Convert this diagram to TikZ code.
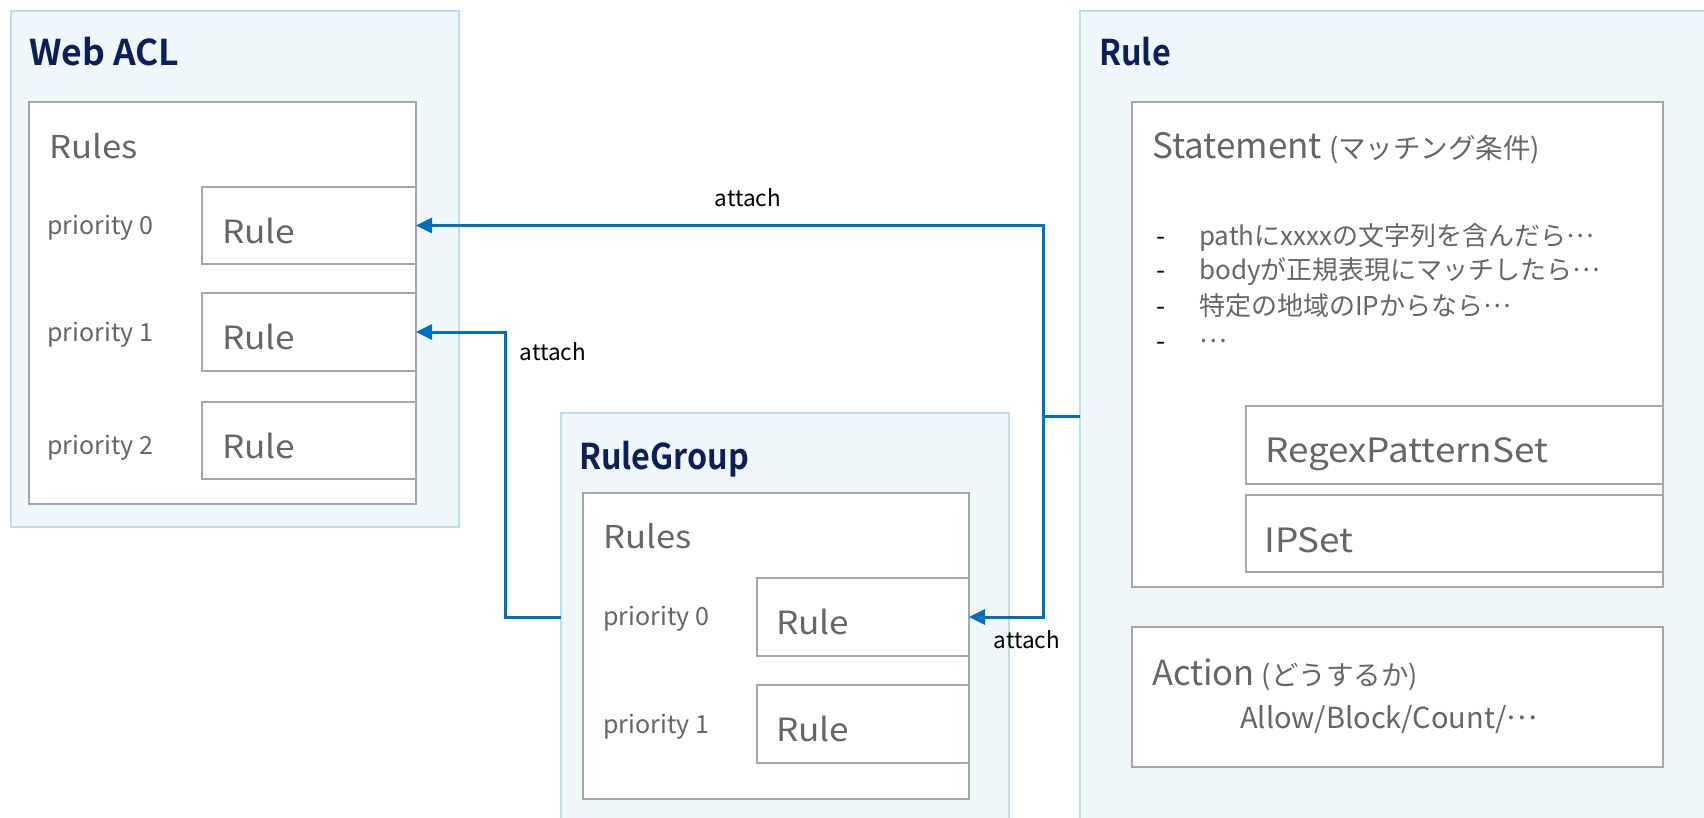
\documentclass[tikz,border=0pt]{standalone}
\usepackage{fontspec}
\setmainfont{Noto Sans CJK JP}
\newfontfamily\widefont{Noto Sans CJK JP}[FakeStretch=1.1]
\newfontfamily\titlefont{Noto Sans CJK JP Bold}
\newfontfamily\narrowtitlefont{Noto Sans CJK JP Bold}[FakeStretch=0.91]
\usetikzlibrary{arrows.meta}

\definecolor{outerfill}{HTML}{EFF7FA}
\definecolor{outerline}{HTML}{BCE0E6}
\definecolor{innerline}{HTML}{A6A6A6}
\definecolor{txtgray}{HTML}{666666}
\definecolor{navy}{HTML}{0A1F5C}
\definecolor{linkblue}{HTML}{0070C0}

\newcommand\fsz[1]{\fontsize{#1}{#1}\selectfont}
% centred three-dot ellipsis, as in Japanese typesetting
\newcommand\middots{\raisebox{0.3em}{…}}

\tikzset{
  panel/.style={draw=outerline, fill=outerfill, line width=2pt, inner sep=0pt, outer sep=0pt, anchor=north west},
  inbox/.style={draw=innerline, fill=white, line width=2pt, inner sep=0pt, outer sep=0pt, anchor=north west},
  title/.style={anchor=base west, inner sep=0pt, text=navy, font=\titlefont\fsz{35.5}},
  ntitle/.style={anchor=base west, inner sep=0pt, text=navy, font=\narrowtitlefont\fsz{35.5}},
  heading/.style={anchor=base west, inner sep=0pt, text=txtgray, font=\widefont\fsz{31.5}},
  rulelbl/.style={anchor=base west, inner sep=0pt, text=txtgray, font=\widefont\fsz{32}},
  setlbl/.style={anchor=base west, inner sep=0pt, text=txtgray, font=\widefont\fsz{33.5}},
  prio/.style={anchor=base west, inner sep=0pt, text=txtgray, font=\fsz{25}},
  bullet/.style={anchor=base west, inner sep=0pt, text=txtgray, font=\fsz{26}},
  dashmark/.style={anchor=base, inner sep=0pt, text=black, font=\fsz{26}},
  lbl/.style={inner sep=0pt, text=black, font=\fsz{22.5}},
  wire/.style={draw=linkblue, line width=3pt},
  arrow/.style={wire, -{Triangle[length=16pt,width=15pt]}},
}

\begin{document}
\begin{tikzpicture}[x=1pt, y=-1pt]
\useasboundingbox (0,0) rectangle (1704,817);
\clip (0,0) rectangle (1704,817);

% ---------- Web ACL ----------
\node[panel, minimum width=448pt, minimum height=516pt] (wacl) at (11,11) {};
\node[title] (waclT) at (29,65) {Web ACL};
\node[inbox, minimum width=387pt, minimum height=402pt] (wrules) at (29,102) {};
\node[heading] (wrulesT) at (49,158) {Rules};
\node[inbox, minimum width=214pt, minimum height=77pt] (wr1) at (202,187) {};
\node[inbox, minimum width=214pt, minimum height=78pt] (wr2) at (202,293) {};
\node[inbox, minimum width=214pt, minimum height=77pt] (wr3) at (202,402) {};
\node[rulelbl] (wr1T) at (222,243) {Rule};
\node[rulelbl] (wr2T) at (222,349) {Rule};
\node[rulelbl] (wr3T) at (222,458) {Rule};
\node[prio] (wp0) at (47,234) {priority 0};
\node[prio] (wp1) at (47,341) {priority 1};
\node[prio] (wp2) at (47,454) {priority 2};

% ---------- RuleGroup ----------
\node[panel, minimum width=448pt, minimum height=430pt] (rg) at (561,413) {};
\node[ntitle] (rgT) at (579,469) {RuleGroup};
\node[inbox, minimum width=386pt, minimum height=306pt] (rgrules) at (583,493) {};
\node[heading] (rgrulesT) at (603,548) {Rules};
\node[inbox, minimum width=212pt, minimum height=78pt] (rgr1) at (757,578) {};
\node[inbox, minimum width=212pt, minimum height=78pt] (rgr2) at (757,685) {};
\node[rulelbl] (rgr1T) at (776,634) {Rule};
\node[rulelbl] (rgr2T) at (776,741) {Rule};
\node[prio] (rgp0) at (603,625) {priority 0};
\node[prio] (rgp1) at (603,733) {priority 1};

% ---------- Rule ----------
\node[panel, minimum width=660pt, minimum height=830pt] (rl) at (1080,11) {};
\node[ntitle] (rlT) at (1099,65) {Rule};
\node[inbox, minimum width=531pt, minimum height=485pt] (stmt) at (1132,102) {};
\node[anchor=base west, inner sep=0pt, text=txtgray] (stmtT) at (1152,158)
  {\fsz{35}Statement\hspace{7pt}\fsz{27.5}(マッチング条件)};
\node[dashmark] (d1) at (1161,245) {-};
\node[dashmark] (d2) at (1161,279) {-};
\node[dashmark] (d3) at (1161,315) {-};
\node[dashmark] (d4) at (1161,350) {-};
\node[bullet] (b1) at (1199,245) {pathにxxxxの文字列を含んだら\middots};
\node[bullet] (b2) at (1199,279) {bodyが正規表現にマッチしたら\middots};
\node[bullet] (b3) at (1199,315) {特定の地域のIPからなら\middots};
\node[bullet] (b4) at (1199,350) {\middots};
\node[inbox, minimum width=417pt, minimum height=78pt] (regex) at (1246,406) {};
\node[inbox, minimum width=417pt, minimum height=77pt] (ipset) at (1246,495) {};
\node[setlbl] (regexT) at (1265,462) {RegexPatternSet};
\node[setlbl] (ipsetT) at (1264,552) {IPSet};
\node[inbox, minimum width=531pt, minimum height=140pt] (action) at (1132,627) {};
\node[anchor=base west, inner sep=0pt, text=txtgray] (actionT) at (1152,685)
  {\fsz{34.5}Action\hspace{7pt}\fsz{27.5}(どうするか)};
\node[anchor=base west, inner sep=0pt, text=txtgray, font=\fsz{29}] (allowT) at (1240,728)
  {Allow/Block/Count/\middots};

% ---------- attach connectors ----------
\coordinate (jb) at (1043,416);
\draw[wire] (rl.west |- jb) -- (jb);
\draw[arrow] (jb) |- (wr1.east);
\draw[arrow] (jb) |- (rgr1.east);
\draw[arrow] (rg.west |- rgr1.east) -- ++(-56,0) |- (wr2.east);

\node[lbl] (a1) at (748,198) {attach};
\node[lbl] (a2) at (553,352) {attach};
\node[lbl] (a3) at (1027,640) {attach};
\end{tikzpicture}
\end{document}
